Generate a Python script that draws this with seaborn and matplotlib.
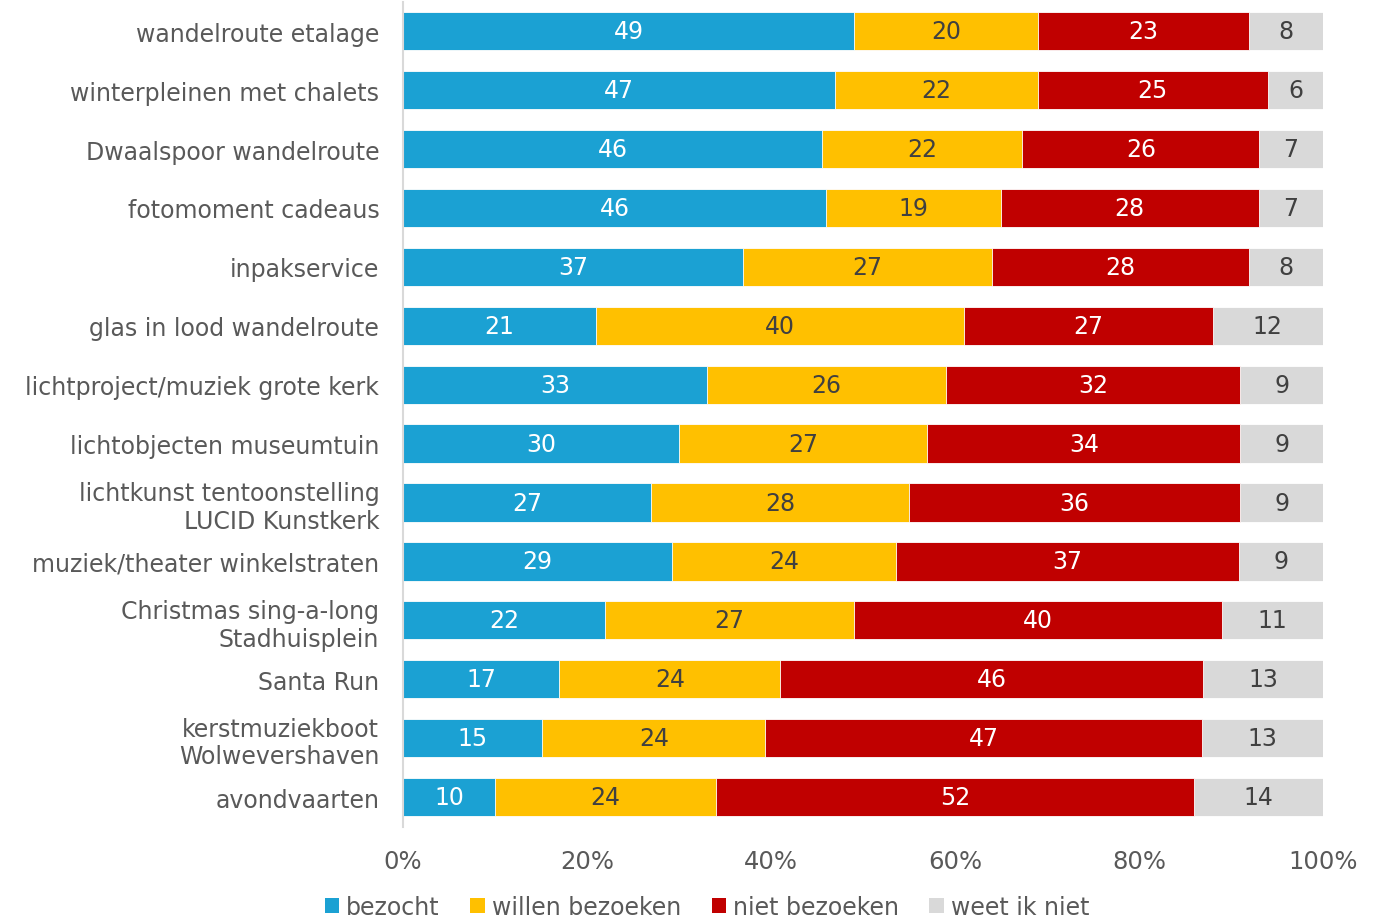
import matplotlib
matplotlib.use("Agg")
import matplotlib.pyplot as plt
import numpy as np
import pandas as pd
import seaborn as sns
from matplotlib.patches import Patch

categories = [
    "wandelroute etalage",
    "winterpleinen met chalets",
    "Dwaalspoor wandelroute",
    "fotomoment cadeaus",
    "inpakservice",
    "glas in lood wandelroute",
    "lichtproject/muziek grote kerk",
    "lichtobjecten museumtuin",
    "lichtkunst tentoonstelling\nLUCID Kunstkerk",
    "muziek/theater winkelstraten",
    "Christmas sing-a-long\nStadhuisplein",
    "Santa Run",
    "kerstmuziekboot\nWolwevershaven",
    "avondvaarten",
]
bezocht = [49, 47, 46, 46, 37, 21, 33, 30, 27, 29, 22, 17, 15, 10]
willen_bezoeken = [20, 22, 22, 19, 27, 40, 26, 27, 28, 24, 27, 24, 24, 24]
niet_bezoeken = [23, 25, 26, 28, 28, 27, 32, 34, 36, 37, 40, 46, 47, 52]
weet_ik_niet = [8, 6, 7, 7, 8, 12, 9, 9, 9, 9, 11, 13, 13, 14]

series_names = ["bezocht", "willen bezoeken", "niet bezoeken", "weet ik niet"]
series_colors = ["#1BA1D3", "#FFC000", "#C00000", "#D9D9D9"]
label_colors = ["white", "#404040", "white", "#404040"]

df = pd.DataFrame(
    {
        "bezocht": bezocht,
        "willen bezoeken": willen_bezoeken,
        "niet bezoeken": niet_bezoeken,
        "weet ik niet": weet_ik_niet,
    },
    index=categories,
)
share = df.div(df.sum(axis=1), axis=0) * 100
cum = share.cumsum(axis=1)

sns.set_theme(style="white")
plt.rcParams["font.family"] = ["DejaVu Sans"]
FS = 17

fig, ax = plt.subplots(figsize=(13.81, 9.2), dpi=100)
fig.subplots_adjust(left=0.2918, right=0.958, top=0.997, bottom=0.1005)

# overlay cumulative bars, widest first
for name, color in reversed(list(zip(series_names, series_colors))):
    sns.barplot(
        x=cum[name].values,
        y=categories,
        orient="h",
        color=color,
        width=0.65,
        edgecolor="white",
        linewidth=0.6,
        saturation=1,
        ax=ax,
    )

for i, cat in enumerate(categories):
    for name, tc in zip(series_names, label_colors):
        center = cum.loc[cat, name] - share.loc[cat, name] / 2
        ax.text(center, i, str(df.loc[cat, name]), ha="center", va="center",
                color=tc, fontsize=FS)

ax.set_xlim(0, 100)
ax.set_xticks(np.arange(0, 101, 20))
ax.set_xticklabels([f"{v}%" for v in range(0, 101, 20)])
ax.tick_params(axis="x", length=0, pad=16, labelsize=17.5, labelcolor="#595959")
ax.tick_params(axis="y", length=0, pad=17, labelsize=FS, labelcolor="#595959")
ax.set_xlabel("")
ax.set_ylabel("")
for side in ["top", "right", "bottom"]:
    ax.spines[side].set_visible(False)
ax.spines["left"].set_color("#D9D9D9")
ax.spines["left"].set_linewidth(1.5)

handles = [Patch(facecolor=c, edgecolor="none") for c in series_colors]
fig.legend(handles, series_names, loc="center", bbox_to_anchor=(707 / 1381, 1 - 908 / 920),
           ncol=4, frameon=False, fontsize=FS, labelcolor="#595959",
           handlelength=0.6, handleheight=0.6, handletextpad=0.3, columnspacing=1.3)

fig.savefig("out.png", dpi=100)
